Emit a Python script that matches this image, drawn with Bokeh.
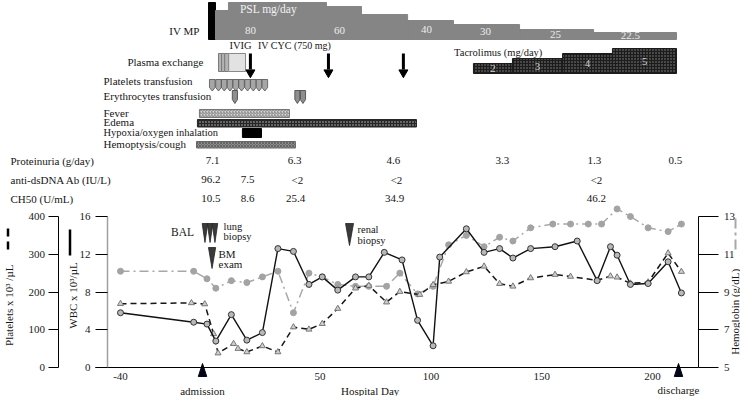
import numpy as np
from bokeh.plotting import figure
from bokeh.models import Range1d, LinearAxis, FixedTicker
from bokeh.core.properties import value
from bokeh.embed import file_html
from bokeh.resources import INLINE

# ---------------- main chart data (hospital day) ----------------
wbc_day = [-40, -7, -1, 3, 10, 17, 24, 31, 38, 45, 51, 58, 66, 72, 79, 87, 94, 101, 104,
           116, 124, 131, 137, 145, 156, 166, 175, 181, 184, 190, 198, 207, 213]
wbc = [5.8, 4.8, 4.6, 2.8, 5.6, 2.9, 3.7, 12.6, 12.3, 8.8, 9.6, 8.2, 9.6, 9.6, 12.2, 11.4, 5.0, 2.3, 11.7,
       14.7, 12.2, 12.6, 11.6, 12.6, 12.8, 13.4, 9.2, 12.8, 11.9, 8.8, 8.9, 11.2, 7.9]

plt_day = [-40, -8, -2, 2, 4, 11, 13, 17, 24, 31, 38, 45, 51, 58, 66, 72, 80, 86, 95, 101, 108,
           116, 124, 131, 137, 145, 156, 163, 175, 181, 184, 190, 198, 207, 213]
plt_val = [169, 171, 168, 89, 38, 63, 50, 41, 57, 41, 107, 101, 116, 156, 210, 217, 173, 201, 193, 219, 228,
           253, 268, 222, 215, 237, 246, 241, 231, 242, 239, 223, 226, 303, 254]

hb_day = [-40, -7, -1, 3, 10, 17, 24, 31, 38, 45, 51, 58, 66, 72, 80, 86, 94, 101, 108, 116, 124,
          131, 137, 145, 155, 163, 171, 177, 184, 190, 198, 207, 213]
hb = [10.1, 10.1, 9.7, 9.2, 9.6, 9.5, 9.8, 10.1, 7.9, 10.0, 9.8, 9.4, 9.3, 9.3, 9.3, 10.0, 8.9, 9.3, 11.5, 12.0, 11.4,
      11.9, 11.7, 12.4, 12.6, 12.6, 12.6, 12.6, 13.4, 13.0, 12.4, 12.2, 12.6]

x_ticks = [-40, 50, 100, 150, 200]
wbc_ticks = [0, 4, 8, 12, 16]
plt_ticks = [0, 100, 200, 300, 400]
hb_ticks = [5, 7, 9, 11, 13]

admission_day = -3.0
discharge_day = 211.7
bal_day = [-1.9, 0.4, 2.6]
bm_day = [1.3]
renal_day = [63.3]

# ---------------- timeline data ----------------
ivmp_start, ivmp_end = -0.3, 2.85
psl_start = [2.85, 8.7, 52.9, 68.7, 89.5, 110.2, 140.0, 173.4]
psl_end = [8.7, 52.9, 68.7, 89.5, 110.2, 140.0, 173.4, 210.8]
psl_level = [29, 37, 33, 25, 19, 15, 10, 7]          # drawn step height
psl_text = ["80", "60", "40", "30", "25", "22.5"]
psl_text_day = [18.6, 58.8, 98.0, 124.6, 156.2, 190.0]

tac_start = [119.2, 136.8, 159.4, 181.9]
tac_end = [136.8, 159.4, 181.9, 210.8]
tac_dose = [2, 3, 4, 5]

pe_start = [4.2, 5.6, 7.0]
pe_end = [5.6, 7.0, 8.8]
ivig_start, ivig_end = 8.8, 16.4
cyc_day = [18.6, 53.8, 87.6]
plt_tx_day = [1.4, 4.2, 6.8, 9.4, 12.0, 14.6, 17.3, 19.9, 22.5, 25.1]
rbc_tx_day = [11.6, 39.8, 42.3]

fever = (-4.4, 36.2)
edema = (-5.3, 93.5)
hypoxia = (15.0, 23.6)
hemoptysis = (-5.7, 38.9)

prot_day = [1.5, 38.5, 83.1, 132.3, 173.8, 210.3]
prot_txt = ["7.1", "6.3", "4.6", "3.3", "1.3", "0.5"]
dsdna_day = [0.8, 17.3, 39.8, 84.5, 174.7]
dsdna_txt = ["96.2", "7.5", "<2", "<2", "<2"]
ch50_day = [0.8, 17.3, 39.0, 83.6, 174.7]
ch50_txt = ["10.5", "8.6", "25.4", "34.9", "46.2"]

# ---------------- geometry ----------------
W, H = 740, 396
PX0, PXD = 120.0, 2.217      # pixel of day -40, pixels per day
PY0, PYU = 367.0, 9.4375     # pixel of WBC 0, pixels per WBC unit


def day_at(px):
    return (px - PX0) / PXD - 40


def wbc_at(py):
    return (PY0 - py) / PYU


SERIF = "Liberation Serif"

p = figure(width=W, height=H, output_backend="svg", toolbar_location=None,
           x_range=Range1d(day_at(0), day_at(W)),
           y_range=Range1d(wbc_at(H), wbc_at(0)),
           x_axis_type=None, y_axis_type=None, min_border=0)
p.outline_line_color = None
p.background_fill_color = "white"
p.border_fill_color = "white"
p.extra_y_ranges = {
    "plt": Range1d(wbc_at(H) * 25, wbc_at(0) * 25),
    "hb": Range1d(5 + wbc_at(H) / 2, 5 + wbc_at(0) / 2),
    "lane": Range1d(H, 0),
}
p.extra_x_ranges = {"px": Range1d(0, W)}


def style_axis(ax):
    ax.major_label_text_font = SERIF
    ax.major_label_text_font_size = "11px"
    ax.major_label_text_color = "#1a1a1a"
    ax.minor_tick_line_color = None
    ax.major_tick_in = 0


# axes
xax = LinearAxis(fixed_location=0, ticker=FixedTicker(ticks=x_ticks),
                 bounds=(day_at(95), day_at(697.5)))
style_axis(xax)
xax.major_tick_out = 0
xax.major_tick_line_color = None
xax.major_label_standoff = 5
xax.major_label_overrides = {-40: "-40"}
p.add_layout(xax, "below")

wax = LinearAxis(fixed_location=day_at(107), ticker=FixedTicker(ticks=wbc_ticks), bounds=(0, 16))
style_axis(wax)
wax.major_tick_out = 12
wax.axis_line_color = "#a0a0a0"
wax.axis_line_width = 1.5
wax.major_label_standoff = 5
p.add_layout(wax, "left")

pax = LinearAxis(y_range_name="plt", fixed_location=day_at(57.5), ticker=FixedTicker(ticks=plt_ticks),
                 bounds=(0, 400))
style_axis(pax)
pax.major_tick_out = 10
pax.major_label_standoff = 3
p.add_layout(pax, "left")

hax = LinearAxis(y_range_name="hb", fixed_location=day_at(697.5), ticker=FixedTicker(ticks=hb_ticks),
                 bounds=(5, 13))
style_axis(hax)
hax.major_tick_out = 20
hax.major_label_standoff = 6
p.add_layout(hax, "right")


def txt(xs, ys, texts, size="11px", align="left", color="#151515", angle=0.0, xr="px", yr="lane"):
    kw = {}
    if xr != "default":
        kw["x_range_name"] = xr
    p.text(x=xs, y=ys, text=texts, text_font=value(SERIF), text_font_size=value(size),
           text_align=align, text_baseline="middle", text_color=color, angle=angle,
           y_range_name=yr, **kw)


# ---------------- timeline ----------------
PSL_BASE = 39
p.quad(left=[ivmp_start], right=[ivmp_end], bottom=[PSL_BASE], top=[2], y_range_name="lane",
       fill_color="black", line_color="black")
p.quad(left=psl_start, right=psl_end, bottom=[PSL_BASE] * len(psl_start),
       top=[PSL_BASE - v for v in psl_level], y_range_name="lane",
       fill_color="#858585", line_color="#858585")
txt([268], [8], ["PSL mg/day"], size="11.5px", align="center", color="#f2f2f2")
psl_text_y = [30, 30, 29, 31, 34, 35]
txt(psl_text_day, psl_text_y, psl_text, size="11px", align="center", color="#ececec", xr="default")
txt([199], [30], ["IV MP"], align="right")

TAC_BASE = 73
p.quad(left=tac_start, right=tac_end, bottom=[TAC_BASE] * 4, top=[TAC_BASE - 5 * d for d in tac_dose],
       y_range_name="lane", fill_color="#1c1c1c", line_color="#1c1c1c",
       hatch_pattern="dot", hatch_color="#8a8a8a", hatch_scale=3, hatch_weight=0.8)
txt([(a + b) / 2 for a, b in zip(tac_start, tac_end)], [TAC_BASE - 2.5 * d for d in tac_dose],
    [str(d) for d in tac_dose], align="center", color="#d0d0d0", xr="default")
txt([499], [52], ["Tacrolimus  (mg/day)"], align="center", size="10.5px")

# plasma exchange / IVIG
p.quad(left=pe_start, right=pe_end, bottom=[71] * 3, top=[53] * 3, y_range_name="lane",
       fill_color="#b3b3b3", line_color="#7a7a7a")
p.quad(left=[ivig_start], right=[ivig_end], bottom=[71], top=[53], y_range_name="lane",
       fill_color="#e2e2e2", line_color="#8a8a8a")
txt([203], [61], ["Plasma exchange"], align="right")
txt([240], [45], ["IVIG"], align="center", size="10.5px")
txt([294], [45], ["IV CYC (750 mg)"], align="center", size="10px")

# IV CYC arrows
p.segment(x0=cyc_day, y0=[53] * 3, x1=cyc_day, y1=[69] * 3, y_range_name="lane",
          line_color="black", line_width=3)
p.scatter(x=cyc_day, y=[72] * 3, y_range_name="lane", marker="inverted_triangle", size=9,
          fill_color="black", line_color="black")


def shields(days, hw_px, top, mid, tip):
    hw = hw_px / PXD
    xs = [[d - hw, d + hw, d + hw, d, d - hw] for d in days]
    ys = [[top, top, mid, tip, mid] for _ in days]
    return xs, ys


xs, ys = shields(plt_tx_day, 2.8, 79, 87, 90.5)
p.patches(xs, ys, y_range_name="lane", fill_color="#a6a6a6", line_color="#505050", line_width=0.8)
txt([103], [80], ["Platelets   transfusion"])
xs, ys = shields(rbc_tx_day, 2.6, 90, 99, 103)
p.patches(xs, ys, y_range_name="lane", fill_color="#8e8e8e", line_color="#404040", line_width=0.8)
txt([103], [95], ["Erythrocytes  transfusion"])

# symptom bars
p.quad(left=[fever[0]], right=[fever[1]], bottom=[117], top=[109], y_range_name="lane",
       fill_color="#d6d6d6", line_color="#777777", hatch_pattern="right_diagonal_line",
       hatch_color="#707070", hatch_scale=3, hatch_weight=0.8)
p.quad(left=[edema[0]], right=[edema[1]], bottom=[126.5], top=[119], y_range_name="lane",
       fill_color="#262626", line_color="#262626", hatch_pattern="dot",
       hatch_color="#c0c0c0", hatch_scale=3, hatch_weight=0.8)
p.quad(left=[hypoxia[0]], right=[hypoxia[1]], bottom=[137], top=[128], y_range_name="lane",
       fill_color="black", line_color="black")
p.quad(left=[hemoptysis[0]], right=[hemoptysis[1]], bottom=[147.5], top=[141], y_range_name="lane",
       fill_color="#8c8c8c", line_color="#666666", hatch_pattern="diagonal_cross",
       hatch_color="#4a4a4a", hatch_scale=3, hatch_weight=0.6)
txt([103], [112.5], ["Fever"])
txt([103], [121.5], ["Edema"])
txt([103], [131.5], ["Hypoxia/oxygen  inhalation"], size="10.5px")
txt([103], [143.5], ["Hemoptysis/cough"])

# lab rows
txt([10], [160], ["Proteinuria  (g/day)"])
txt([10], [179], ["anti-dsDNA Ab (IU/L)"])
txt([10], [198], ["CH50 (U/mL)"])
txt(prot_day, [160] * len(prot_day), prot_txt, align="center", xr="default")
txt(dsdna_day, [179] * len(dsdna_day), dsdna_txt, align="center", xr="default")
txt(ch50_day, [198] * len(ch50_day), ch50_txt, align="center", xr="default")

# ---------------- main chart ----------------
p.line(hb_day, hb, y_range_name="hb", line_color="#a8a8a8", line_width=1.5, line_dash="9 4 2 4")
p.scatter(hb_day, hb, y_range_name="hb", size=6, fill_color="#a3a3a3", line_color="#a3a3a3")
p.line(plt_day, plt_val, y_range_name="plt", line_color="#151515", line_width=1.5, line_dash="6 4")
p.scatter(plt_day, plt_val, y_range_name="plt", marker="triangle", size=6,
          fill_color="#cfcfcf", line_color="#777777")
p.line(wbc_day, wbc, line_color="#111111", line_width=1.4)
p.scatter(wbc_day, wbc, size=6, fill_color="#b8b8b8", line_color="#333333", line_width=1)


# procedure markers (inverted triangles)
def darts(days, hw_px, top, tip):
    hw = hw_px / PXD
    return [[d - hw, d + hw, d] for d in days], [[top, top, tip] for _ in days]


for days, hwp, top, tip in [(bal_day, 2.8, 223, 242), (bm_day, 3.6, 247, 268), (renal_day, 4.0, 223, 245)]:
    xs, ys = darts(days, hwp, top, tip)
    p.patches(xs, ys, y_range_name="lane", fill_color="#3a3a3a", line_color="#222222", line_width=0.8)
txt([182], [231], ["BAL"], align="center", size="11.5px")
txt([223, 223], [226, 236], ["lung", "biopsy"], size="10.5px")
txt([218, 218], [253, 263], ["BM", "exam"], size="11px")
txt([357, 357], [229, 240], ["renal", "biopsy"], size="10.5px")

# admission / discharge markers
for d in [admission_day, discharge_day]:
    hw = 4.2 / PXD
    p.patches([[d - hw, d + hw, d]], [[376, 376, 363]], y_range_name="lane",
              fill_color="#05051a", line_color="#05051a")
txt([admission_day], [390], ["admission"], align="center", xr="default")
txt([discharge_day], [389], ["discharge"], align="center", xr="default")
txt([371], [390], ["Hospital  Day"], align="center")

# axis titles (rotated) and legend swatches
txt([8], [302], ["Platelets  x 10³  /µL"], align="center", angle=np.pi / 2)
txt([72], [295], ["WBC x 10³/µL"], align="center", angle=np.pi / 2)
txt([734.5], [310], ["Hemoglobin  (g/dL)"], align="center", angle=np.pi / 2)
p.segment(x0=[7.5], y0=[228], x1=[7.5], y1=[250], x_range_name="px", y_range_name="lane",
          line_color="black", line_width=2.5, line_dash="8 5")
p.segment(x0=[69.5], y0=[229], x1=[69.5], y1=[255], x_range_name="px", y_range_name="lane",
          line_color="black", line_width=2.5)
p.segment(x0=[735], y0=[218], x1=[735], y1=[251], x_range_name="px", y_range_name="lane",
          line_color="#a8a8a8", line_width=2, line_dash="10 4 3 4")

open("out.html", "w").write(file_html(p, INLINE))
